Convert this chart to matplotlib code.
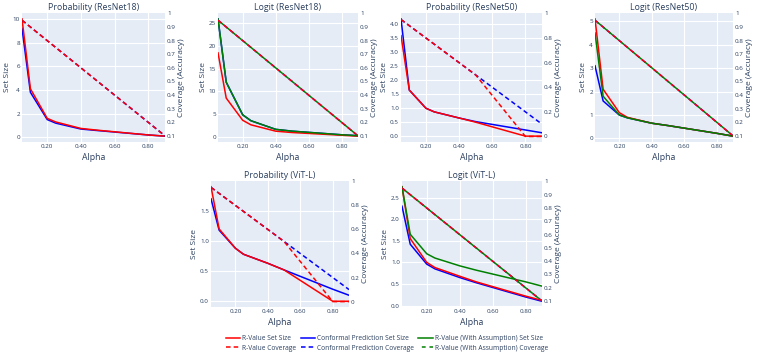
import matplotlib
matplotlib.use("Agg")
import matplotlib.pyplot as plt
from matplotlib.ticker import FormatStrFormatter

# alpha grid shared by all panels
alphas = [0.05, 0.1, 0.2, 0.25, 0.4, 0.5, 0.8, 0.9]
coverage_ideal = [0.95, 0.9, 0.8, 0.75, 0.6, 0.5, 0.2, 0.1]
coverage_drop = [0.95, 0.9, 0.8, 0.75, 0.6, 0.5, 0.0, 0.0]

# Probability (ResNet18)
p18_r = [10.0, 4.1, 1.6, 1.3, 0.75, 0.6, 0.2, 0.1]
p18_c = [9.2, 3.8, 1.5, 1.2, 0.7, 0.57, 0.2, 0.1]

# Logit (ResNet18)
l18_r = [18.5, 8.5, 3.6, 2.6, 1.2, 0.9, 0.3, 0.1]
l18_c = [26.0, 12.0, 4.8, 3.5, 1.6, 1.2, 0.4, 0.2]
l18_a = [26.0, 12.0, 4.8, 3.5, 1.6, 1.2, 0.4, 0.2]

# Probability (ResNet50)
p50_r = [3.6, 1.65, 1.0, 0.87, 0.65, 0.5, 0.0, 0.0]
p50_c = [4.2, 1.65, 1.0, 0.87, 0.65, 0.52, 0.22, 0.12]

# Logit (ResNet50)
l50_r = [5.1, 2.1, 1.1, 0.9, 0.65, 0.55, 0.22, 0.1]
l50_c = [3.1, 1.6, 1.0, 0.88, 0.65, 0.55, 0.22, 0.1]
l50_a = [4.5, 1.8, 1.0, 0.88, 0.65, 0.55, 0.22, 0.1]

# Probability (ViT-L)
pvit_r = [1.9, 1.2, 0.88, 0.78, 0.63, 0.52, 0.0, 0.0]
pvit_c = [1.7, 1.18, 0.88, 0.78, 0.63, 0.52, 0.2, 0.1]

# Logit (ViT-L)
lvit_r = [2.75, 1.55, 1.0, 0.88, 0.68, 0.55, 0.22, 0.12]
lvit_c = [2.3, 1.42, 0.96, 0.85, 0.65, 0.53, 0.2, 0.1]
lvit_a = [2.75, 1.65, 1.2, 1.1, 0.92, 0.82, 0.55, 0.45]

panels = [
    ("Probability (ResNet18)", p18_r, p18_c, None, coverage_ideal, coverage_ideal, 2),
    ("Logit (ResNet18)", l18_r, l18_c, l18_a, coverage_ideal, coverage_ideal, 5),
    ("Probability (ResNet50)", p50_r, p50_c, None, coverage_drop, coverage_ideal, 0.5),
    ("Logit (ResNet50)", l50_r, l50_c, l50_a, coverage_ideal, coverage_ideal, 1),
    ("Probability (ViT-L)", pvit_r, pvit_c, None, coverage_drop, coverage_ideal, 0.5),
    ("Logit (ViT-L)", lvit_r, lvit_c, lvit_a, coverage_ideal, coverage_ideal, 0.5),
]

W, H = 760, 356
boxes = [
    (22, 13, 165, 142), (218, 13, 358, 142), (401, 13, 542, 142), (595, 13, 733, 142),
    (211, 181, 349, 307), (402, 181, 542, 307),
]

BG = "#E5ECF6"
FC = "#2a3f5f"
fig = plt.figure(figsize=(W / 100, H / 100), dpi=100)
plt.rcParams["font.family"] = ["Open Sans", "DejaVu Sans"]

dash = (0, (3, 2))
handles = {}
for (title, r, c, a, cov_r, cov_c, step), (x0, y0, x1, y1) in zip(panels, boxes):
    ax = fig.add_axes([x0 / W, 1 - y1 / H, (x1 - x0) / W, (y1 - y0) / H])
    ax.set_facecolor(BG)
    ax2 = ax.twinx()
    ax.set_zorder(0)
    ax2.set_zorder(1)
    ax2.patch.set_visible(False)

    handles["rs"], = ax.plot(alphas, r, color="red", lw=1.1, zorder=4)
    handles["cs"], = ax.plot(alphas, c, color="blue", lw=1.1, zorder=3)
    if a is not None:
        handles["as"], = ax.plot(alphas, a, color="green", lw=1.1, zorder=5)
    handles["cc"], = ax2.plot(alphas, cov_c, color="blue", lw=1.1, ls=dash)
    handles["rc"], = ax2.plot(alphas, cov_r, color="red", lw=1.1, ls=dash)
    if a is not None:
        handles["ac"], = ax2.plot(alphas, cov_c, color="green", lw=1.1, ls=(2.5, (2.5, 2.5)))

    ax.set_xlim(0.05, 0.9)
    ax.set_xticks([0.2, 0.4, 0.6, 0.8])
    ax.xaxis.set_major_formatter(FormatStrFormatter("%.2f"))
    ax.yaxis.set_major_locator(plt.MultipleLocator(step))
    ax.margins(y=0.05)
    lo = min(cov_r)
    ax2.set_ylim(lo - 0.045, 1.003)
    if lo == 0:
        ax2.set_yticks([0, 0.2, 0.4, 0.6, 0.8, 1.0], ["0", "0.2", "0.4", "0.6", "0.8", "1"])
    else:
        vals = [0.1, 0.2, 0.3, 0.4, 0.5, 0.6, 0.7, 0.8, 0.9, 1.0]
        ax2.set_yticks(vals, [f"{v:g}" for v in vals])
    ax.grid(True, color="white", lw=0.8)
    ax.set_axisbelow(True)
    for axx in (ax, ax2):
        for s in axx.spines.values():
            s.set_visible(False)
        axx.tick_params(length=0, labelsize=4.5, colors=FC, pad=1.5)
    ax.set_title(title, fontsize=6.3, color=FC, pad=2)
    ax.set_xlabel("Alpha", fontsize=6.3, color=FC, labelpad=3)
    ax.set_ylabel("Set Size", fontsize=6, color=FC, labelpad=1.5)
    ax2.set_ylabel("Coverage (Accuracy)", fontsize=6, color=FC, labelpad=1.5)

order = ["rs", "rc", "cs", "cc", "as", "ac"]
labels = {
    "rs": "R-Value Set Size",
    "rc": "R-Value Coverage",
    "cs": "Conformal Prediction Set Size",
    "cc": "Conformal Prediction Coverage",
    "as": "R-Value (With Assumption) Set Size",
    "ac": "R-Value (With Assumption) Coverage",
}
fig.legend([handles[k] for k in order], [labels[k] for k in order], ncol=3,
           loc="upper center", bbox_to_anchor=(387 / W, 1 - 332 / H), frameon=False,
           fontsize=4.8, labelcolor=FC, handlelength=2.2, handletextpad=0.3,
           columnspacing=0.6, labelspacing=0.35, borderpad=0)

fig.savefig("out.png", dpi=100, facecolor="white")
